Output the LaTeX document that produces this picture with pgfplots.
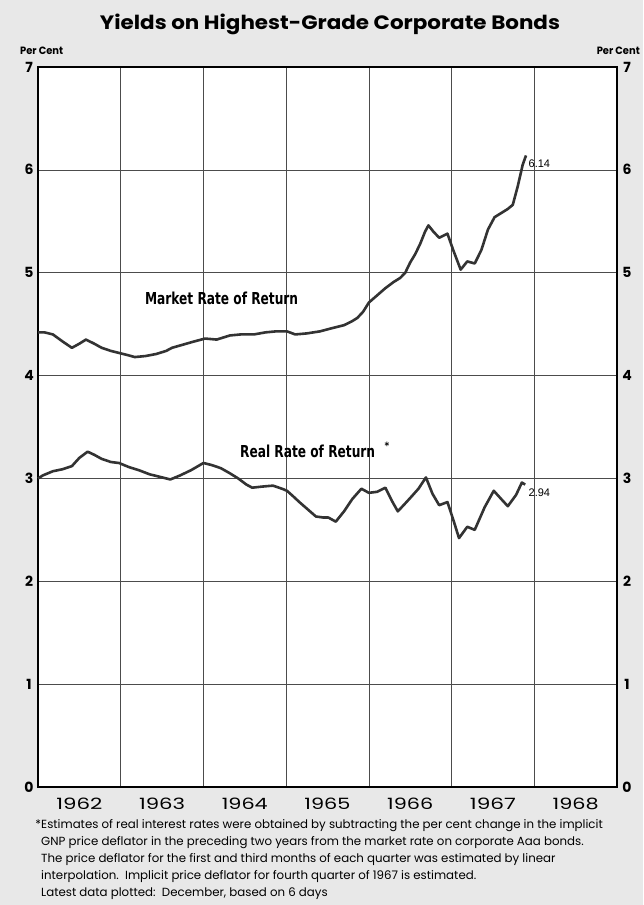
\documentclass[border=0pt]{standalone}
\usepackage{fontspec}
\usepackage{graphicx}
\usepackage{pgfplots}
\usepackage{pgfplotstable}
\pgfplotsset{compat=1.18}
\setmainfont{Poppins}
\newfontfamily\pop{Poppins}
\newfontfamily\labf{DejaVu Sans Condensed}
\newfontfamily\lib{Liberation Sans}

\newcommand{\yr}[1]{\resizebox{46pt}{11.5pt}{\pop\fontsize{16}{16}\selectfont #1}}
\newcommand{\yl}[1]{{\pop\bfseries\fontsize{14}{14}\selectfont #1}}

\pgfplotstableread{
x y
1962.00 4.42
1962.08 4.42
1962.18 4.40
1962.30 4.33
1962.41 4.27
1962.50 4.31
1962.58 4.35
1962.68 4.31
1962.77 4.27
1962.88 4.24
1962.98 4.22
1963.08 4.20
1963.17 4.18
1963.30 4.19
1963.43 4.21
1963.55 4.24
1963.62 4.27
1963.75 4.30
1963.88 4.33
1964.02 4.36
1964.16 4.35
1964.32 4.39
1964.45 4.40
1964.61 4.40
1964.75 4.42
1964.88 4.43
1965.01 4.43
1965.11 4.40
1965.25 4.41
1965.41 4.43
1965.55 4.46
1965.70 4.49
1965.80 4.53
1965.86 4.56
1965.93 4.62
1966.00 4.71
1966.10 4.78
1966.20 4.85
1966.30 4.91
1966.38 4.95
1966.44 5.00
1966.50 5.10
1966.56 5.18
1966.62 5.28
1966.68 5.40
1966.72 5.46
1966.78 5.40
1966.85 5.34
1966.90 5.36
1966.95 5.38
1967.02 5.22
1967.11 5.03
1967.19 5.11
1967.28 5.09
1967.36 5.22
1967.44 5.42
1967.52 5.54
1967.60 5.58
1967.68 5.62
1967.74 5.66
1967.80 5.84
1967.86 6.05
1967.90 6.14
}\market

\pgfplotstableread{
x y
1962.00 3.00
1962.06 3.03
1962.18 3.07
1962.30 3.09
1962.41 3.12
1962.50 3.20
1962.60 3.26
1962.68 3.23
1962.77 3.19
1962.88 3.16
1962.98 3.15
1963.10 3.11
1963.22 3.08
1963.35 3.04
1963.50 3.01
1963.60 2.99
1963.72 3.03
1963.85 3.08
1964.00 3.15
1964.10 3.13
1964.21 3.10
1964.32 3.05
1964.42 3.00
1964.52 2.94
1964.59 2.91
1964.70 2.92
1964.84 2.93
1964.95 2.90
1965.01 2.88
1965.08 2.83
1965.16 2.77
1965.26 2.70
1965.36 2.63
1965.45 2.62
1965.51 2.62
1965.60 2.58
1965.70 2.68
1965.80 2.80
1965.91 2.90
1966.00 2.86
1966.10 2.87
1966.20 2.91
1966.28 2.78
1966.35 2.68
1966.42 2.74
1966.50 2.81
1966.60 2.90
1966.69 3.01
1966.77 2.85
1966.85 2.74
1966.95 2.77
1967.02 2.60
1967.09 2.42
1967.19 2.53
1967.28 2.50
1967.40 2.72
1967.51 2.88
1967.60 2.80
1967.68 2.73
1967.78 2.84
1967.85 2.96
1967.89 2.94
}\real

\pgfplotsset{base/.style={
  at={(38pt,-787pt)}, anchor=south west, scale only axis,
  width=579pt, height=720pt,
  xmin=1962, xmax=1969, ymin=0, ymax=7,
  major tick length=0pt, minor tick length=0pt,
  tick style={draw=none},
}}

\begin{document}
\begin{tikzpicture}[x=1pt,y=1pt]
\fill[black!9] (0,0) rectangle (643,-905);
\path[use as bounding box] (0,0) rectangle (643,-905);

\begin{axis}[base,
  axis background/.style={fill=white},
  axis line style={line width=1.6pt, black},
  xtick={1962.5,1963.5,1964.5,1965.5,1966.5,1967.5,1968.5},
  xticklabels={\yr{1962},\yr{1963},\yr{1964},\yr{1965},\yr{1966},\yr{1967},\yr{1968}},
  xticklabel style={anchor=base, yshift=-22pt, inner sep=0pt},
  minor xtick={1963,1964,1965,1966,1967,1968},
  xminorgrids=true,
  ytick={0,1,2,3,4,5,6,7},
  yticklabels={\yl{0},\yl{1},\yl{2},\yl{3},\yl{4},\yl{5},\yl{6},\yl{7}},
  yticklabel style={anchor=base, xshift=-9pt, yshift=-5pt, inner sep=0pt},
  ymajorgrids=true,
  major grid style={black!70, line width=0.6pt},
  minor grid style={black!70, line width=0.6pt},
  clip=false,
]
\addplot[black!80, line width=2.6pt, line join=round] table[x=x,y=y] {\market};
\addplot[black!80, line width=2.6pt, line join=round] table[x=x,y=y] {\real};
\node[anchor=center, inner sep=0pt] at (axis cs:1964.22,4.75) {\resizebox{153pt}{12.5pt}{\labf\bfseries Market Rate of Return}};
\node[anchor=center, inner sep=0pt] at (axis cs:1965.26,3.26) {\resizebox{135pt}{12.5pt}{\labf\bfseries Real Rate of Return}};
\node[anchor=center, inner sep=0pt] at (axis cs:1966.22,3.32) {\labf\bfseries\fontsize{10}{10}\selectfont *};
\node[anchor=base west, inner sep=0pt] at (axis cs:1967.93,6.02) {\lib\fontsize{11}{11}\selectfont 6.14};
\node[anchor=base west, inner sep=0pt] at (axis cs:1967.93,2.82) {\lib\fontsize{11}{11}\selectfont 2.94};
\end{axis}

\begin{axis}[base,
  axis line style={draw=none},
  xtick=\empty,
  ytick={0,1,2,3,4,5,6,7},
  yticklabel pos=right,
  yticklabels={\yl{0},\yl{1},\yl{2},\yl{3},\yl{4},\yl{5},\yl{6},\yl{7}},
  yticklabel style={anchor=base, xshift=10pt, yshift=-5pt, inner sep=0pt},
]
\end{axis}

\node[anchor=base, inner sep=0pt] at (330,-29) {\resizebox{460pt}{15.5pt}{\pop\bfseries Yields on Highest-Grade Corporate Bonds}};
\node[anchor=base west, inner sep=0pt] at (20,-54) {\resizebox{43pt}{7.5pt}{\pop\bfseries Per Cent}};
\node[anchor=base east, inner sep=0pt] at (640,-54) {\resizebox{43pt}{7.5pt}{\pop\bfseries Per Cent}};

\begin{scope}[every node/.style={anchor=base west, inner sep=0pt, font=\pop\fontsize{11.8}{11.8}\selectfont}]
\node at (41,-828.5) {\llap{*}Estimates of real interest rates were obtained by subtracting the per cent change in the implicit};
\node at (41,-845.5) {GNP price deflator in the preceding two years from the market rate on corporate Aaa bonds.};
\node at (41,-862.5) {The price deflator for the first and third months of each quarter was estimated by linear};
\node at (41,-879.5) {interpolation.\ \ Implicit price deflator for fourth quarter of 1967 is estimated.};
\node at (41,-896.5) {Latest data plotted:\ \ December, based on 6 days};
\end{scope}
\end{tikzpicture}
\end{document}
